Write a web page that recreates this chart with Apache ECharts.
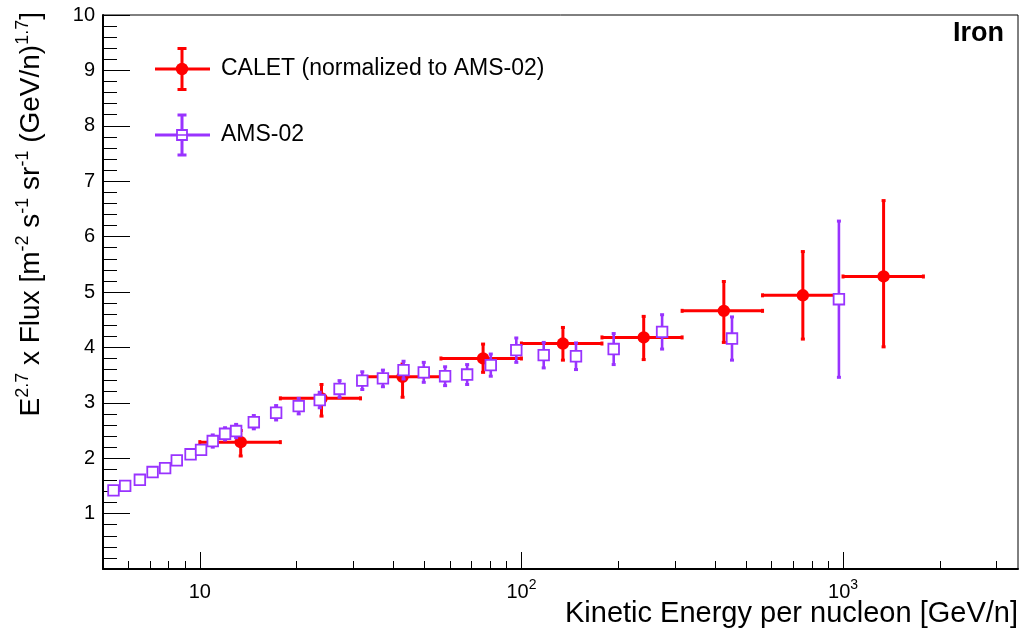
<!DOCTYPE html>
<html>
<head>
<meta charset="utf-8">
<style>
  html, body { margin: 0; padding: 0; background: #fff; }
  #main { width: 1029px; height: 630px; }
</style>
<script src="https://cdn.jsdelivr.net/npm/echarts@6/dist/echarts.min.js"></script>
</head>
<body>
<div id="main"></div>
<script>
const FONT = '"Liberation Sans", Arial, sans-serif';
const RED = '#ff0000';
const VIOLET = '#9933ff';

// CALET (normalized to AMS-02): bin centre, flux, bin edges, asymmetric errors
const calEnergy = [13.4, 23.9, 42.7, 76.0, 134.6, 240, 426, 750, 1337];
const calFlux = [2.29, 3.08, 3.47, 3.80, 4.07, 4.18, 4.66, 4.94, 5.28];
const calBinLow = [10, 17.8, 31.6, 56.2, 100, 178, 316, 562, 1000];
const calBinHigh = [17.8, 31.6, 56.2, 100, 178, 316, 562, 1000, 1778];
const calErrUp = [0.21, 0.25, 0.23, 0.26, 0.29, 0.38, 0.53, 0.79, 1.37];
const calErrDown = [0.25, 0.32, 0.37, 0.25, 0.30, 0.40, 0.57, 0.79, 1.27];

// AMS-02
const amsEnergy = [5.39, 5.86, 6.51, 7.13, 7.80, 8.48, 9.36, 10.09, 10.97, 11.98, 12.97, 14.72, 17.27, 20.3, 23.6,
  27.2, 32.0, 37.1, 43.0, 49.7, 57.9, 67.8, 80.3, 96.4, 117.3, 147.8, 193.6, 273.8, 451.6, 971];
const amsFlux = [1.42, 1.50, 1.61, 1.75, 1.82, 1.96, 2.07, 2.15, 2.31, 2.44, 2.49, 2.65, 2.82, 2.94, 3.05,
  3.25, 3.40, 3.44, 3.59, 3.55, 3.48, 3.51, 3.68, 3.95, 3.86, 3.84, 3.97, 4.28, 4.16, 4.87];
const amsErr = [0.04, 0.04, 0.05, 0.05, 0.05, 0.06, 0.06, 0.07, 0.11, 0.11, 0.12, 0.12, 0.13, 0.14, 0.14,
  0.15, 0.16, 0.15, 0.16, 0.18, 0.17, 0.18, 0.20, 0.22, 0.23, 0.24, 0.28, 0.31, 0.39, 1.41];

// axis ticks
const xMajor = [10, 100, 1000];
const xTickExp = ['', '2', '3'];
const xMinor = [6, 7, 8, 9, 20, 30, 40, 50, 60, 70, 80, 90, 200, 300, 400, 500, 600, 700, 800, 900, 2000, 3000];

const calData = calEnergy.map((e, i) => [e, calFlux[i], calBinLow[i], calBinHigh[i], calErrDown[i], calErrUp[i]]);
const amsData = amsEnergy.map((e, i) => [e, amsFlux[i], amsErr[i]]);

function seg(x1, y1, x2, y2, color, w) {
  return { type: 'line', shape: { x1: x1, y1: y1, x2: x2, y2: y2 }, style: { stroke: color, lineWidth: w } };
}

function renderCalet(params, api) {
  const c = api.coord([api.value(0), api.value(1)]);
  const l = api.coord([api.value(2), api.value(1)]);
  const h = api.coord([api.value(3), api.value(1)]);
  const b = api.coord([api.value(0), api.value(1) - api.value(4)]);
  const t = api.coord([api.value(0), api.value(1) + api.value(5)]);
  return {
    type: 'group',
    children: [
      seg(l[0], c[1], h[0], c[1], RED, 3),
      seg(c[0], t[1], c[0], b[1], RED, 3),
      seg(l[0], c[1] - 2, l[0], c[1] + 2, RED, 3),
      seg(h[0], c[1] - 2, h[0], c[1] + 2, RED, 3),
      seg(c[0] - 2, t[1], c[0] + 2, t[1], RED, 3),
      seg(c[0] - 2, b[1], c[0] + 2, b[1], RED, 3),
      { type: 'circle', shape: { cx: c[0], cy: c[1], r: 6.2 }, style: { fill: RED } }
    ]
  };
}

function renderAms(params, api) {
  const c = api.coord([api.value(0), api.value(1)]);
  const b = api.coord([api.value(0), api.value(1) - api.value(2)]);
  const t = api.coord([api.value(0), api.value(1) + api.value(2)]);
  const half = 5.3;
  const kids = [];
  if (c[1] - t[1] > half) {
    kids.push(seg(c[0], c[1] - half, c[0], t[1], VIOLET, 2.6));
    kids.push(seg(c[0] - 2, t[1], c[0] + 2, t[1], VIOLET, 3));
    kids.push(seg(c[0], c[1] + half, c[0], b[1], VIOLET, 2.6));
    kids.push(seg(c[0] - 2, b[1], c[0] + 2, b[1], VIOLET, 3));
  }
  kids.push({
    type: 'rect',
    shape: { x: c[0] - half, y: c[1] - half, width: half * 2, height: half * 2 },
    style: { fill: '#fff', stroke: VIOLET, lineWidth: 1.8 }
  });
  return { type: 'group', children: kids };
}

const chart = echarts.init(document.getElementById('main'));
chart.setOption({
  animation: false,
  backgroundColor: '#fff',
  textStyle: { fontFamily: FONT },
  grid: {
    left: 103, right: 11, top: 15, bottom: 61,
    show: true, borderColor: '#000', borderWidth: 1, backgroundColor: 'transparent'
  },
  xAxis: [
    {
      type: 'log', logBase: 10, min: 5, max: 3500, position: 'bottom',
      axisLine: { lineStyle: { color: '#000', width: 2 } },
      axisTick: { inside: true, length: 17, customValues: xMajor, lineStyle: { color: '#000', width: 1 } },
      axisLabel: {
        customValues: xMajor,
        margin: 9,
        color: '#000',
        formatter: function (v) {
          const i = xMajor.indexOf(Math.round(v));
          const exp = xTickExp[i];
          return '{b|10}' + (exp ? '{s|' + exp + '}' : '');
        },
        rich: {
          b: { fontSize: 20, fontFamily: FONT, color: '#000', lineHeight: 24, verticalAlign: 'bottom' },
          s: { fontSize: 14, fontFamily: FONT, color: '#000', lineHeight: 24, verticalAlign: 'top' }
        }
      },
      splitLine: { show: false }
    },
    {
      type: 'log', logBase: 10, min: 5, max: 3500, position: 'bottom',
      axisLine: { show: false },
      axisTick: { inside: true, length: 8, customValues: xMinor, lineStyle: { color: '#000', width: 1 } },
      axisLabel: { show: false },
      splitLine: { show: false }
    }
  ],
  yAxis: {
    type: 'value', min: 0, max: 10, interval: 1,
    axisLine: { lineStyle: { color: '#000', width: 2 } },
    axisTick: { inside: true, length: 27, lineStyle: { color: '#000', width: 1 } },
    minorTick: { show: true, splitNumber: 5, length: 14, lineStyle: { color: '#000', width: 1 } },
    axisLabel: {
      margin: 8, color: '#000', fontSize: 20, fontFamily: FONT,
      formatter: function (v) { return v === 0 ? '' : String(v); }
    },
    splitLine: { show: false }
  },
  series: [
    {
      name: 'CALET (normalized to AMS-02)',
      type: 'custom', xAxisIndex: 0, yAxisIndex: 0,
      renderItem: renderCalet,
      encode: { x: 0, y: 1 },
      data: calData, silent: true, z: 2
    },
    {
      name: 'AMS-02',
      type: 'custom', xAxisIndex: 0, yAxisIndex: 0,
      renderItem: renderAms,
      encode: { x: 0, y: 1 },
      data: amsData, silent: true, z: 3
    }
  ],
  graphic: [
    // y title
    {
      type: 'text', x: 31, y: 12, rotation: Math.PI / 2, silent: true,
      style: {
        text: 'E{s|2.7} x Flux [m{s|-2} s{s|-1} sr{s|-1} (GeV/n){s|1.7}]',
        fontSize: 28, fontFamily: FONT, fill: '#000', lineHeight: 34,
        align: 'right', verticalAlign: 'middle',
        rich: { s: { fontSize: 18, fontFamily: FONT, fill: '#000', lineHeight: 34, verticalAlign: 'top' } }
      }
    },
    // x title
    {
      type: 'text', x: 1018, y: 614, silent: true,
      style: {
        text: 'Kinetic Energy per nucleon [GeV/n]',
        fontSize: 29, fontFamily: FONT, fill: '#000', align: 'right', verticalAlign: 'middle'
      }
    },
    // plot label
    {
      type: 'text', x: 1004, y: 34, silent: true,
      style: { text: 'Iron', fontSize: 27, fontWeight: 'bold', fontFamily: FONT, fill: '#000', align: 'right', verticalAlign: 'middle' }
    },
    // legend: CALET
    { type: 'line', shape: { x1: 155, y1: 69, x2: 210, y2: 69 }, style: { stroke: RED, lineWidth: 3 }, silent: true },
    { type: 'line', shape: { x1: 182, y1: 48.5, x2: 182, y2: 89.5 }, style: { stroke: RED, lineWidth: 3 }, silent: true },
    { type: 'line', shape: { x1: 177.5, y1: 48.5, x2: 186.5, y2: 48.5 }, style: { stroke: RED, lineWidth: 3 }, silent: true },
    { type: 'line', shape: { x1: 177.5, y1: 89.5, x2: 186.5, y2: 89.5 }, style: { stroke: RED, lineWidth: 3 }, silent: true },
    { type: 'circle', shape: { cx: 182, cy: 69, r: 6.2 }, style: { fill: RED }, silent: true },
    {
      type: 'text', x: 221, y: 69, silent: true,
      style: { text: 'CALET (normalized to AMS-02)', fontSize: 23, fontFamily: FONT, fill: '#000', align: 'left', verticalAlign: 'middle' }
    },
    // legend: AMS-02
    { type: 'line', shape: { x1: 155, y1: 135, x2: 210, y2: 135 }, style: { stroke: VIOLET, lineWidth: 3 }, silent: true },
    { type: 'line', shape: { x1: 182, y1: 115, x2: 182, y2: 155 }, style: { stroke: VIOLET, lineWidth: 3 }, silent: true },
    { type: 'line', shape: { x1: 177.5, y1: 115, x2: 186.5, y2: 115 }, style: { stroke: VIOLET, lineWidth: 3 }, silent: true },
    { type: 'line', shape: { x1: 177.5, y1: 155, x2: 186.5, y2: 155 }, style: { stroke: VIOLET, lineWidth: 3 }, silent: true },
    { type: 'rect', shape: { x: 177, y: 130, width: 10, height: 10 }, style: { fill: '#fff', stroke: VIOLET, lineWidth: 1.8 }, silent: true },
    { type: 'line', shape: { x1: 177, y1: 135, x2: 187, y2: 135 }, style: { stroke: VIOLET, lineWidth: 1.5 }, silent: true },
    {
      type: 'text', x: 221, y: 135, silent: true,
      style: { text: 'AMS-02', fontSize: 23, fontFamily: FONT, fill: '#000', align: 'left', verticalAlign: 'middle' }
    }
  ]
});
</script>
</body>
</html>
